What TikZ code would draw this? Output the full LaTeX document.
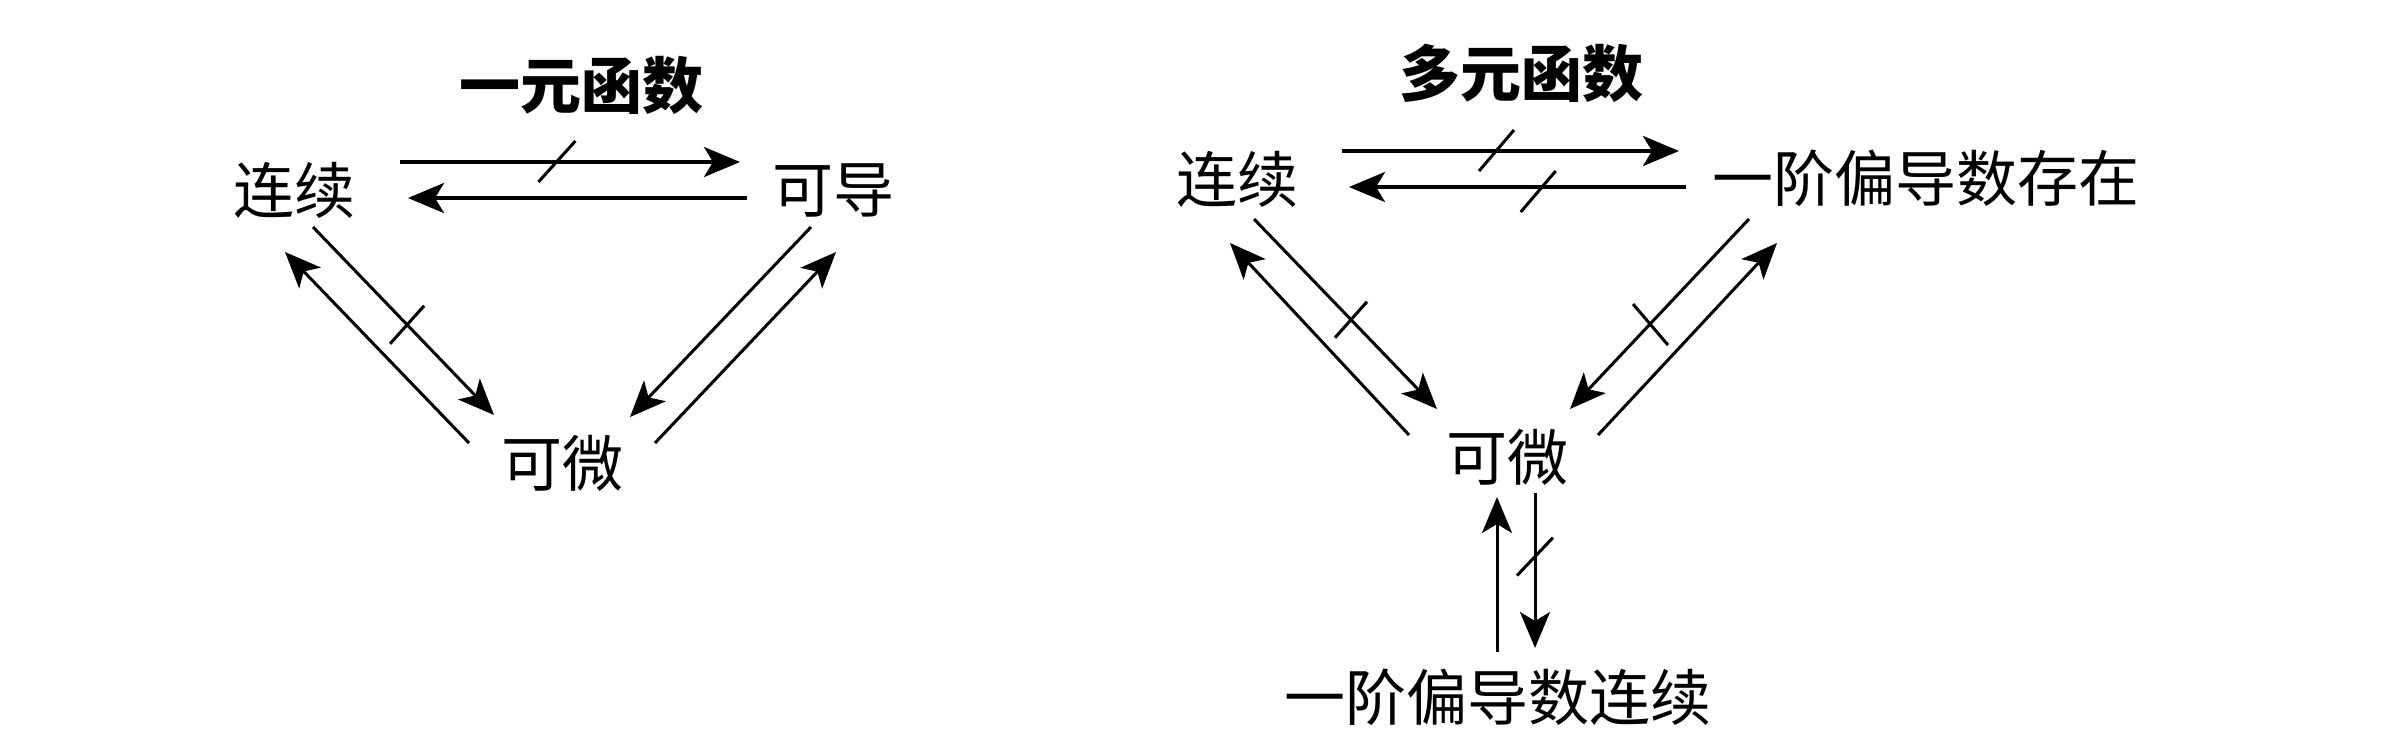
\documentclass[tikz,border=0pt]{standalone}
\usepackage{fontspec}
\newfontfamily\cjk{Noto Sans CJK SC}
\usetikzlibrary{arrows.meta,calc}
\begin{document}
\begin{tikzpicture}[x=1pt,y=-1pt,
   elt/.style={inner sep=0pt,font=\cjk\fontsize{61}{61}\selectfont},
   ttl/.style={inner sep=0pt,font=\cjk\bfseries\fontsize{61}{61}\selectfont},
   imp/.style={line width=3pt,-{Stealth[length=36pt,width=30pt,inset=9pt]}},
   himp/.style={imp,line width=4pt},
   bar/.style={line width=3pt}]
\useasboundingbox[fill=white] (0,0) rectangle (2381,753);
\path (581,85)   node (t1)  [ttl] {一元函数}
      (294,190)  node (lx1) [elt] {连续}
      (833,190)  node (kd)  [elt] {可导}
      (562,463)  node (kw1) [elt] {可微};
\path (1521,73)  node (t2)  [ttl] {多元函数}
      (1237,179) node (lx2) [elt] {连续}
      (1926,178) node (pd)  [elt] {一阶偏导数存在}
      (1507,457) node (kw2) [elt] {可微}
      (1498,697) node (pdc) [elt] {一阶偏导数连续};
\draw[himp] ($(lx1)+(106,-28)$) -- coordinate[pos=0.46] (s1) ($(kd)+(-93,-28)$);
\draw[bar] ($(s1)+(-18,20)$) -- ($(s1)+(19,-21)$);
\draw[himp] ($(kd)+(-86,8)$) -- ($(lx1)+(114,8)$);
\draw[imp] ($(lx1)+(19,37)$) -- coordinate[pos=0.52] (s2) ($(kw1)+(-68,-48)$);
\draw[bar] ($(s2)+(-17,19)$) -- ($(s2)+(17,-19)$);
\draw[imp] ($(kw1)+(-93,-20)$) -- ($(lx1)+(-9,62)$);
\draw[imp] ($(kd)+(-22,37)$) -- ($(kw1)+(68,-46)$);
\draw[imp] ($(kw1)+(93,-20)$) -- ($(kd)+(3,62)$);
\draw[himp] ($(lx2)+(105,-28)$) -- coordinate[pos=0.457] (s3) ($(pd)+(-247,-27)$);
\draw[bar] ($(s3)+(-17,20)$) -- ($(s3)+(18,-21)$);
\draw[himp] ($(pd)+(-240,9)$) -- coordinate[pos=0.44] (s4) ($(lx2)+(112,8)$);
\draw[bar] ($(s4)+(-17,25)$) -- ($(s4)+(18,-16)$);
\draw[imp] ($(lx2)+(17,40)$) -- coordinate[pos=0.53] (s5) ($(kw2)+(-70,-48)$);
\draw[bar] ($(s5)+(-16,18)$) -- ($(s5)+(16,-18)$);
\draw[imp] ($(kw2)+(-98,-22)$) -- ($(lx2)+(-7,64)$);
\draw[imp] ($(pd)+(-177,41)$) -- coordinate[pos=0.553] (s6) ($(kw2)+(63,-48)$);
\draw[bar] ($(s6)+(-17,-20)$) -- ($(s6)+(18,21)$);
\draw[imp] ($(kw2)+(91,-22)$) -- ($(pd)+(-149,65)$);
\draw[imp] ($(pdc)+(-1,-45)$) -- ($(kw2)+(-10,40)$);
\draw[imp] ($(kw2)+(28,36)$) -- coordinate[pos=0.41] (s7) ($(pdc)+(37,-49)$);
\draw[bar] ($(s7)+(-18,19)$) -- ($(s7)+(18,-19)$);
\end{tikzpicture}
\end{document}
